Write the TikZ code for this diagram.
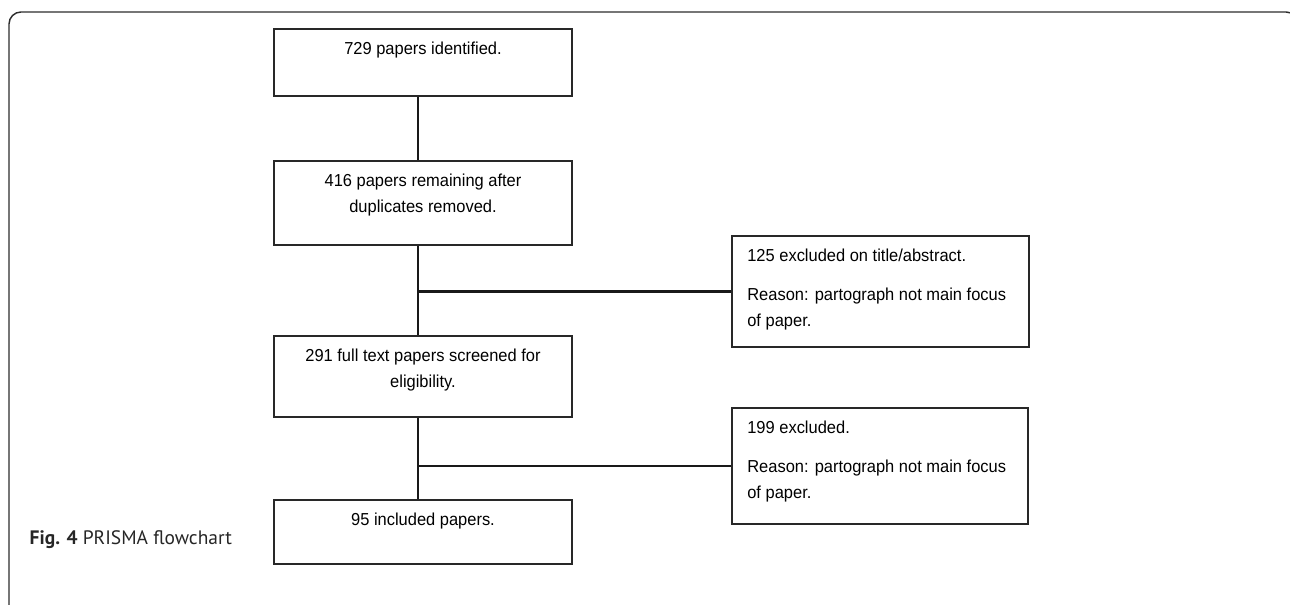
\documentclass[tikz,border=0pt]{standalone}
\usepackage{fontspec}
\setmainfont{Liberation Sans}[FakeStretch=0.95]
\newfontfamily\capfont{PT Sans}
\usetikzlibrary{calc,positioning}
\definecolor{boxline}{RGB}{40,40,40}
\definecolor{framegray}{RGB}{45,45,45}
\tikzset{
  every node/.style={font=\fontsize{13}{19.5}\selectfont, text=black},
  mainbox/.style={draw=boxline, line width=0.9pt, inner sep=0pt},
  exclbox/.style={mainbox},
  link/.style={draw=black!90, line width=1.6pt},
  thin link/.style={link, line width=0.8pt}
}
% box bodies: fixed size, text hung from the top
\newcommand{\flowtext}[2]{\parbox[c][#1][t]{223.5pt}{\centering\rule{0pt}{19.5pt}#2}}
\newcommand{\excltext}[3]{\parbox[c][#1][t]{#2}{\raggedright\leftskip=11.5pt\rule{0pt}{19pt}#3}}

\begin{document}
\begin{tikzpicture}[x=0.75pt, y=-0.75pt, line cap=butt, line join=miter]
  \useasboundingbox (0,0) rectangle (1290,605);

  % figure frame
  \draw[framegray, line width=1.1pt, rounded corners=9pt] (9,610) -- (9,12) -- (1298,12) -- (1298,40);

  \node[mainbox] (ident) at (423,62.5) {\flowtext{50.25pt}{729 papers identified.}};
  \node[mainbox] (dedup) at (423,203) {\flowtext{63pt}{416 papers remaining after\\duplicates removed.}};
  \node[mainbox] (full) at (423,376.5) {\flowtext{60.75pt}{291 full text papers screened for\\eligibility.}};
  \node[mainbox] (incl) at (423,532) {\flowtext{48pt}{95 included papers.}};

  \node[exclbox] (excla) at (880.5,291.5) {\excltext{83.25pt}{222.75pt}{125 excluded on title/abstract.\\[10pt]Reason: partograph not main focus\\of paper.}};
  \node[exclbox] (exclb) at (880,466) {\excltext{87pt}{222pt}{199 excluded.\\[10pt]Reason: partograph not main focus\\of paper.}};

  \coordinate (spine) at (418,0);
  \draw[link] (spine |- ident.south) -- (spine |- dedup.north);
  \draw[link] (spine |- dedup.south) -- (spine |- full.north);
  \draw[link] (spine |- excla.west) -- (excla.west);
  \draw[thin link] (spine |- full.south) -- (spine |- incl.north);
  \draw[link] (spine |- exclb.west) -- (exclb.west);

  \node[anchor=base west, font=\capfont\fontsize{14.6}{17}\selectfont, text=black!85] (caption) at (25,545) {\textbf{Fig. 4} PRISMA flowchart};
\end{tikzpicture}
\end{document}
